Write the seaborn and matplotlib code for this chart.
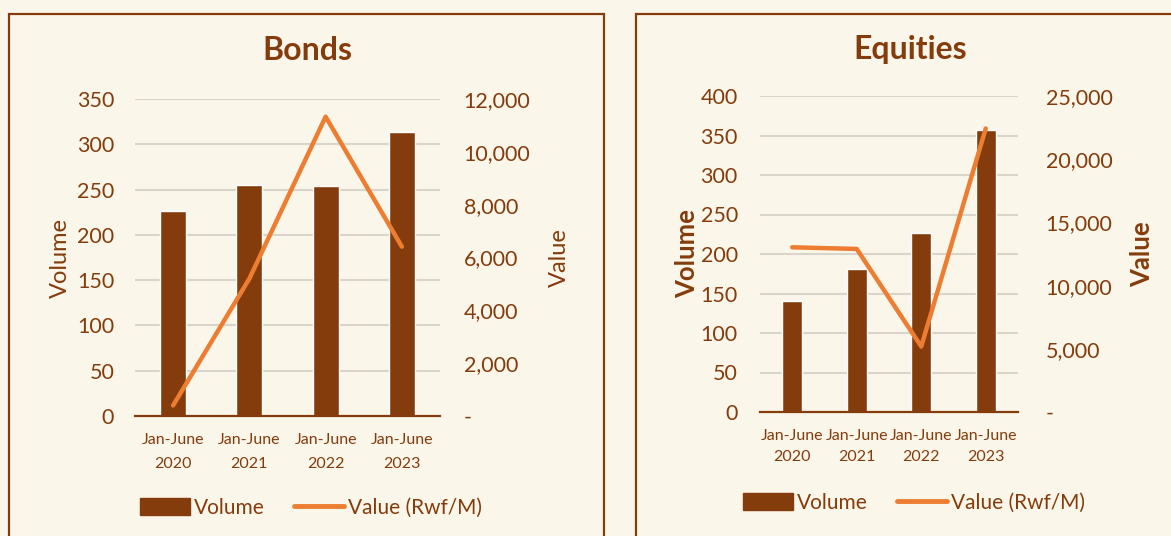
import matplotlib
matplotlib.use("Agg")
import matplotlib.pyplot as plt
import seaborn as sns
import pandas as pd
from matplotlib.patches import Rectangle, Patch
from matplotlib.lines import Line2D
from matplotlib.ticker import FuncFormatter, MultipleLocator

# ---- data ----
periods = ["Jan-June\n2020", "Jan-June\n2021", "Jan-June\n2022", "Jan-June\n2023"]
bonds_volume = [226, 255, 254, 314]
bonds_value = [400, 5200, 11330, 6410]
equities_volume = [140, 181, 226, 357]
equities_value = [13030, 12900, 5180, 22430]

BG = "#FBF6EA"
BROWN = "#843C0C"
ORANGE = "#ED7D31"
GRID = "#D9D5CB"

sns.set_theme(style="white")
plt.rcParams["font.family"] = ["Lato", "DejaVu Sans"]

W, H = 1171, 536
fig = plt.figure(figsize=(W / 100, H / 100), dpi=100, facecolor=BG)


def fx(px):
    return px / W


def fy(py):
    return 1 - py / H


# panel borders
for x0, x1 in [(9, 604), (636, 1200)]:
    fig.patches.append(Rectangle((fx(x0), fy(560)), fx(x1 - x0), fy(14) - fy(560),
                                 transform=fig.transFigure, fill=False,
                                 edgecolor=BROWN, linewidth=1.6, zorder=0))

thousands = FuncFormatter(lambda v, p: "-" if v == 0 else f"{int(v):,}")


def panel(rect, title, title_xy, vol, val, vmax, vstep, rmax, rstep, bold_labels,
          lbl_x, rlbl_x, lpad, rpad, xpad, xls, bar_w, legend_xy):
    ax = fig.add_axes(rect)
    ax.set_facecolor("none")
    df = pd.DataFrame({"period": periods, "volume": vol, "value": val})
    sns.barplot(data=df, x="period", y="volume", color=BROWN, saturation=1,
                width=bar_w, ax=ax, zorder=3)
    ax.set_ylim(0, vmax)
    ax.yaxis.set_major_locator(MultipleLocator(vstep))
    ax.grid(axis="y", color=GRID, linewidth=1.5, zorder=0)
    ax.set_axisbelow(True)
    for s in ["top", "right", "left"]:
        ax.spines[s].set_visible(False)
    ax.spines["bottom"].set_color(BROWN)
    ax.spines["bottom"].set_linewidth(1.6)
    ax.spines["bottom"].set_zorder(4)
    ax.tick_params(axis="y", length=0, pad=lpad, labelsize=15.5, labelcolor=BROWN)
    ax.tick_params(axis="x", length=0, pad=xpad, labelsize=11.5, labelcolor=BROWN)
    for t in ax.get_xticklabels():
        t.set_linespacing(xls)
    ax.set_xlabel("")
    weight = "bold" if bold_labels else "normal"
    lsize = 18.5 if bold_labels else 17
    ax.set_ylabel("Volume", color=BROWN, fontsize=lsize, fontweight=weight)
    ax.yaxis.set_label_coords(lbl_x, 0.5)

    ax2 = ax.twinx()
    sns.pointplot(data=df, x="period", y="value", color=ORANGE, markers="",
                  linestyles="-", ax=ax2, zorder=5)
    for ln in ax2.lines:
        ln.set_linewidth(3.2)
        ln.set_solid_capstyle("round")
        ln.set_solid_joinstyle("round")
    ax2.set_ylim(0, rmax)
    ax2.yaxis.set_major_locator(MultipleLocator(rstep))
    ax2.yaxis.set_major_formatter(thousands)
    for s in ["top", "right", "left", "bottom"]:
        ax2.spines[s].set_visible(False)
    ax2.tick_params(axis="y", length=0, pad=rpad, labelsize=15.5, labelcolor=BROWN)
    ax2.set_ylabel("Value", color=BROWN, fontsize=lsize, fontweight=weight, rotation=90)
    ax2.yaxis.set_label_coords(rlbl_x, 0.5)
    ax2.set_xlabel("")
    ax2.grid(False)

    fig.text(title_xy[0], title_xy[1], title, ha="center", va="center",
             fontsize=23, fontweight="bold", color=BROWN)

    handles = [Patch(facecolor=BROWN, edgecolor=BROWN),
               Line2D([], [], color=ORANGE, linewidth=3.5)]
    fig.legend(handles, ["Volume", "Value (Rwf/M)"], loc="center",
               bbox_to_anchor=legend_xy, ncol=2, frameon=False, fontsize=15,
               handlelength=2.4, handleheight=0.85, handletextpad=0.2,
               columnspacing=1.4, labelcolor=BROWN)
    return ax, ax2


panel([fx(135), fy(416), fx(440 - 135), fy(99) - fy(416)], "Bonds", (fx(307), fy(50)),
      bonds_volume, bonds_value, 350, 50, 12000, 2000, False,
      -0.21, 1.357, 15, 17, 12, 1.9, 0.34, (fx(311), fy(508)))

panel([fx(760), fy(412), fx(1018 - 760), fy(96) - fy(412)], "Equities", (fx(910), fy(50)),
      equities_volume, equities_value, 400, 50, 25000, 5000, True,
      -0.236, 1.434, 16, 20, 12, 1.65, 0.31, (fx(914), fy(503)))

fig.savefig("out.png", dpi=100, facecolor=BG)
